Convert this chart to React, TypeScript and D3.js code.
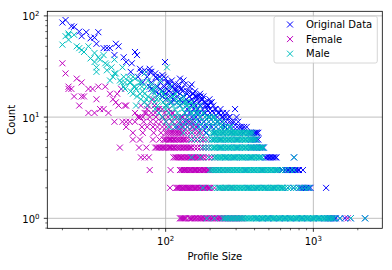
import * as d3 from "d3";

const seriesNames = ["Original Data", "Female", "Male"];
const seriesColors = ["#0000ff", "#bf00bf", "#00bfbf"];

// [profile size, count] for the scattered upper points
const originalPoints: [number, number][] = [
  [20, 86], [21, 91], [23, 79], [24, 78], [26, 70], [27, 63], [29, 69], [31, 60], [33, 61],
  [34, 53], [35, 69], [38, 48], [40, 48], [42, 48], [45, 41], [46, 53], [48, 50], [52, 39],
  [54, 35], [59, 34], [62, 44], [64, 41], [67, 30], [72, 29], [78, 30], [80, 28], [85, 27],
  [87, 24], [91, 25], [95, 26], [99, 35], [100, 24], [102, 22], [106, 21], [110, 23], [115, 21],
  [118, 19], [122, 21], [125, 24], [128, 19], [132, 23], [135, 21], [140, 18], [146, 20],
  [150, 21], [154, 17], [158, 18], [162, 16], [166, 16], [171, 17], [175, 15], [180, 16],
  [186, 14], [192, 13], [198, 15], [205, 14], [210, 13], [218, 12], [227, 11], [235, 12],
  [245, 10], [259, 11], [270, 10], [280, 9], [295, 12], [302, 10], [310, 9], [318, 8],
  [327, 8], [336, 7], [354, 8], [372, 7], [383, 7], [413, 7],
];

// [count, profile sizes with that count]
const originalBands: [number, number[]][] = [
  [1, [414, 452, 494, 539, 589, 643, 702, 767, 837, 914, 999, 1091, 1191, 1245, 1273, 1301, 1330, 1359, 1390, 1420, 1514, 1637, 1790, 2240]],
  [2, [363, 414, 472, 539, 615, 672, 734, 801, 819, 837, 856, 875, 894, 914, 935, 956, 1220]],
  [3, [304, 347, 396, 452, 516, 563, 615, 643, 657, 672, 687, 702, 718, 734, 750, 767, 784, 800, 850]],
  [4, [255, 291, 332, 379, 433, 472, 483, 494, 505, 516, 527, 539, 551, 563, 740]],
  [5, [234, 267, 304, 347, 379, 396, 414, 433, 443, 452, 462]],
  [6, [205, 234, 267, 304, 347, 379, 396, 405, 414, 424]],
  [7, [187, 214, 244, 279, 318, 363, 396, 405, 414, 424]],
  [8, [120, 130, 140, 152, 164, 178, 190, 205, 220, 236, 252, 270, 288, 305, 340]],
  [9, [125, 135, 145, 157, 170, 182, 196, 210, 224, 240, 255, 270, 290]],
  [10, [130, 140, 150, 160, 172, 185, 196, 210, 224, 240, 255, 270]],
  [11, [135, 145, 160, 170, 185, 200, 212, 230, 245]],
  [12, [140, 155, 165, 178, 190, 200, 215]],
  [13, [125, 150, 160, 172, 185, 195]],
  [14, [110, 120, 130, 142, 155, 168, 182, 200]],
  [15, [100, 112, 125, 138, 150, 165, 178]],
  [16, [95, 108, 120, 132, 145, 160, 172]],
  [17, [90, 100, 112, 125, 140, 152]],
  [18, [85, 95, 105, 118, 130, 145]],
  [19, [80, 92, 102, 115, 128]],
  [20, [78, 88, 98, 110, 122]],
  [22, [70, 80, 92, 104]],
  [25, [65, 75, 86, 97]],
  [28, [58, 68, 78]],
];

const femalePoints: [number, number][] = [
  [20, 34], [21, 27], [22, 20], [22, 19], [23, 19], [24, 16], [25, 24], [26, 13], [27, 16],
  [27, 22], [28, 16], [30, 19], [30, 11], [32, 19], [33, 11], [34, 15], [35, 20], [36, 12],
  [38, 12], [39, 20], [41, 11], [42, 17], [44, 15], [46, 14], [47, 17], [48, 13], [50, 19],
  [53, 13], [54, 13], [62, 11], [65, 10], [67, 10], [74, 11], [76, 13], [80, 11], [82, 15],
  [88, 12], [95, 12], [96, 10], [105, 11], [110, 11], [120, 10], [130, 10],
];

const femaleBands: [number, number[]][] = [
  [1, [125, 127, 129, 131, 133, 135, 137, 144, 147, 150, 153, 157, 160, 164, 168, 172, 175, 179, 183, 187, 191, 196, 200, 205, 209, 214, 219, 224, 229, 234, 239, 244, 250, 255, 261, 267, 273, 279, 285, 291, 298, 304, 311, 318, 325, 332, 1710]],
  [2, [107, 118, 120, 122, 124, 126, 129, 131, 134, 136, 139, 141, 144, 146, 149, 152, 155, 158, 161, 164, 168, 171, 175, 178, 182, 185, 189, 193, 196, 200, 214, 234, 255, 279]],
  [3, [78, 108, 125, 128, 130, 133, 135, 138, 140, 143, 146, 149, 152, 155, 158, 161, 164, 168, 171, 175, 178, 182, 185, 189, 193, 196, 200, 208, 218, 230, 245, 262]],
  [4, [68, 72, 77, 113, 116, 118, 121, 123, 126, 128, 131, 134, 137, 140, 143, 146, 149, 152, 155, 158, 161, 165, 168, 172, 176, 180, 188, 196, 205, 214]],
  [5, [49, 66, 74, 85, 87, 89, 91, 93, 95, 97, 99, 101, 104, 106, 108, 110, 113, 115, 118, 121, 123, 126, 129, 132, 135, 138, 141, 144, 147, 150, 157, 164, 172, 179, 187, 196]],
  [6, [60, 67, 82, 91, 97, 99, 101, 104, 106, 108, 110, 113, 115, 118, 121, 123, 126, 129, 132, 135, 138, 144, 150, 157, 164, 172, 179, 187]],
  [7, [60, 70, 83, 93, 100, 103, 106, 109, 112, 115, 118, 121, 124, 127, 130, 137, 144, 151, 158, 166, 175]],
  [8, [54, 69, 75, 82, 88, 95, 101, 108, 116, 124, 132, 141, 150, 160]],
  [9, [45, 51, 54, 57, 62, 71, 79, 86, 93, 101, 110, 120, 130, 141, 150]],
  [10, [70, 78, 86, 95, 104, 115, 126, 140]],
  [11, [72, 85, 98, 112]],
  [12, [75, 90, 105]],
  [13, [68, 84, 100]],
];

const malePoints: [number, number][] = [
  [20, 52], [21, 63], [22, 65], [22, 58], [22, 67], [24, 65], [25, 50], [26, 48], [27, 46],
  [28, 44], [30, 50], [31, 38], [33, 43], [33, 35], [34, 28], [34, 31], [35, 39], [36, 37],
  [38, 41], [39, 34], [40, 29], [40, 33], [42, 23], [43, 31], [45, 37], [45, 27], [46, 27],
  [49, 23], [51, 31], [53, 22], [53, 19], [56, 25], [57, 22], [61, 20], [62, 24], [63, 19],
  [63, 13], [67, 22], [67, 17], [69, 20], [72, 27], [74, 15], [76, 23], [80, 21], [82, 19],
  [87, 15], [92, 23], [96, 17], [102, 13], [102, 31], [107, 20], [113, 16], [116, 17],
  [119, 10], [125, 14], [131, 16], [139, 13], [139, 14], [150, 11], [154, 13], [162, 11],
  [162, 12], [180, 11], [194, 10], [210, 10], [222, 9], [245, 8], [272, 8], [295, 7],
];

const maleBands: [number, number[]][] = [
  [1, [190, 214, 244, 250, 255, 261, 267, 273, 279, 285, 291, 298, 304, 311, 318, 325, 332, 340, 347, 355, 363, 371, 379, 388, 396, 405, 414, 424, 433, 443, 452, 462, 472, 483, 494, 505, 516, 527, 539, 551, 563, 576, 589, 602, 615, 629, 643, 657, 672, 687, 702, 718, 734, 750, 767, 784, 801, 819, 837, 856, 875, 894, 914, 935, 956, 977, 999, 1021, 1044, 1067, 1091, 1115, 1140, 1165, 1191, 1218, 1245, 1273, 1301, 1330, 1359, 1390, 1514, 1790, 2240]],
  [2, [179, 205, 224, 229, 234, 239, 244, 250, 255, 261, 267, 273, 279, 285, 291, 298, 304, 311, 318, 325, 332, 340, 347, 355, 363, 371, 379, 388, 396, 405, 414, 424, 433, 443, 452, 462, 472, 483, 494, 505, 516, 527, 539, 551, 563, 576, 589, 602, 615, 629, 643, 672, 702, 734, 767, 801, 837, 875, 914, 940]],
  [3, [200, 205, 210, 214, 219, 224, 229, 234, 239, 244, 250, 255, 261, 267, 273, 279, 285, 291, 298, 304, 311, 318, 325, 332, 340, 347, 355, 363, 371, 379, 388, 396, 405, 414, 424, 433, 443, 452, 462, 472, 483, 494, 505, 516, 527, 539, 551, 563, 576, 594, 620, 650, 700, 740]],
  [4, [150, 172, 196, 214, 219, 224, 229, 234, 239, 244, 250, 255, 261, 267, 273, 279, 285, 291, 298, 304, 311, 318, 325, 332, 340, 347, 355, 363, 371, 379, 388, 396, 405, 414, 424, 433, 443, 452, 740]],
  [5, [179, 187, 196, 205, 210, 214, 219, 224, 229, 234, 239, 244, 250, 255, 261, 267, 273, 279, 285, 291, 298, 304, 311, 318, 325, 332, 340, 347, 355, 363, 371, 379, 388, 396, 405, 414, 424, 433, 443, 452, 460]],
  [6, [150, 164, 179, 196, 205, 210, 214, 219, 224, 229, 234, 239, 244, 250, 255, 261, 267, 273, 279, 285, 291, 298, 304, 311, 318, 325, 332, 340, 347, 355, 363, 371, 379, 388, 396, 405, 414]],
  [7, [132, 150, 170, 190, 205, 210, 214, 219, 224, 229, 234, 239, 244, 250, 255, 261, 267, 273, 279, 285, 291, 298, 304, 311, 318, 325, 332, 340, 347, 355, 363, 371, 379, 390]],
  [8, [105, 116, 128, 140, 154, 168, 184, 200, 218, 236, 256, 276]],
  [9, [100, 112, 125, 138, 152, 166, 180, 195, 210, 228, 245]],
  [10, [95, 110, 125, 140, 155, 170, 185, 200, 215]],
  [11, [90, 105, 120, 135, 150, 165, 180]],
  [12, [85, 100, 115, 130, 145]],
  [13, [75, 88, 100, 112, 125, 140, 155, 170]],
  [14, [72, 84, 96, 108, 120, 135, 150]],
  [15, [68, 80, 92, 104, 118, 130]],
  [16, [64, 76, 88, 100, 112]],
  [17, [60, 72, 84, 96]],
  [18, [58, 70, 82, 94]],
  [20, [52, 62, 74, 86]],
  [22, [50, 58, 68]],
  [25, [44, 52, 60]],
];

const xMajor = [100, 1000];
const xMinor = [20, 30, 40, 50, 60, 70, 80, 90, 200, 300, 400, 500, 600, 700, 800, 900, 2000];
const yMajor = [1, 10, 100];
const yMinor = [0.8, 0.9, 2, 3, 4, 5, 6, 7, 8, 9, 20, 30, 40, 50, 60, 70, 80, 90];

const W = 392;
const H = 270;
const left = 47.3, right = 382.3, top = 11.3, bottom = 228.3;
const font = "DejaVu Sans";

function merge(points: [number, number][], bands: [number, number[]][]) {
  const out = points.slice();
  bands.forEach(([count, sizes]) => sizes.forEach((s) => out.push([s, count])));
  return out;
}

export default function App() {
  const x = d3.scaleLog().domain([15.8, 2930]).range([left, right]);
  const y = d3.scaleLog().domain([0.797, 111]).range([bottom, top]);

  const series = [
    merge(originalPoints, originalBands),
    merge(femalePoints, femaleBands),
    merge(malePoints, maleBands),
  ];

  const cross = (cx: number, cy: number, r: number) =>
    `M${cx - r},${cy - r}L${cx + r},${cy + r}M${cx - r},${cy + r}L${cx + r},${cy - r}`;

  const markerPath = (data: [number, number][]) =>
    data.map(([s, c]) => cross(x(s), y(c), 3)).join("");

  const exp = (v: number) => Math.round(Math.log10(v));

  return (
    <svg width={W} height={H} style={{ position: "absolute", left: 0, top: 0, background: "#fff" }}
      fontFamily={font}>
      <defs>
        <clipPath id="plotClip">
          <rect x={left} y={top} width={right - left} height={bottom - top} />
        </clipPath>
      </defs>

      {/* grid */}
      {xMajor.map((v) => (
        <line key={"gx" + v} x1={x(v)} x2={x(v)} y1={top} y2={bottom} stroke="#b0b0b0" strokeWidth={0.8} />
      ))}
      {yMajor.map((v) => (
        <line key={"gy" + v} x1={left} x2={right} y1={y(v)} y2={y(v)} stroke="#b0b0b0" strokeWidth={0.8} />
      ))}

      {/* points */}
      <g clipPath="url(#plotClip)">
        {series.map((d, i) => (
          <path key={i} d={markerPath(d)} fill="none" stroke={seriesColors[i]} strokeWidth={1} />
        ))}
      </g>

      {/* spines */}
      <rect x={left} y={top} width={right - left} height={bottom - top} fill="none" stroke="#000" strokeWidth={0.8} />

      {/* x ticks */}
      {xMajor.map((v) => (
        <g key={"xt" + v}>
          <line x1={x(v)} x2={x(v)} y1={bottom} y2={bottom + 3.5} stroke="#000" strokeWidth={0.8} />
          <text x={x(v)} y={245} textAnchor="middle" fontSize={10} fill="#000">
            10<tspan fontSize={7} dy={-4.3}>{exp(v)}</tspan>
          </text>
        </g>
      ))}
      {xMinor.map((v) => (
        <line key={"xm" + v} x1={x(v)} x2={x(v)} y1={bottom} y2={bottom + 2} stroke="#000" strokeWidth={0.6} />
      ))}

      {/* y ticks */}
      {yMajor.map((v) => (
        <g key={"yt" + v}>
          <line x1={left - 3.5} x2={left} y1={y(v)} y2={y(v)} stroke="#000" strokeWidth={0.8} />
          <text x={39.5} y={y(v) + 4.6} textAnchor="end" fontSize={10} fill="#000">
            10<tspan fontSize={7} dy={-4.3}>{exp(v)}</tspan>
          </text>
        </g>
      ))}
      {yMinor.map((v) => (
        <line key={"ym" + v} x1={left - 2} x2={left} y1={y(v)} y2={y(v)} stroke="#000" strokeWidth={0.6} />
      ))}

      {/* axis labels */}
      <text x={(left + right) / 2} y={260} textAnchor="middle" fontSize={10} fill="#000">Profile Size</text>
      <text transform={`translate(15,${(top + bottom) / 2}) rotate(-90)`} textAnchor="middle" fontSize={10} fill="#000">Count</text>

      {/* legend */}
      <rect x={274} y={16.3} width={103.3} height={46.7} rx={2} fill="#fff" fillOpacity={0.8} stroke="#cccccc" strokeWidth={0.8} />
      {seriesNames.map((name, i) => {
        const cy = 24.5 + i * 14.6;
        return (
          <g key={name}>
            <path d={cross(290, cy, 3)} stroke={seriesColors[i]} strokeWidth={1} fill="none" />
            <text x={306} y={cy + 3.6} fontSize={10} fill="#000">{name}</text>
          </g>
        );
      })}
    </svg>
  );
}
